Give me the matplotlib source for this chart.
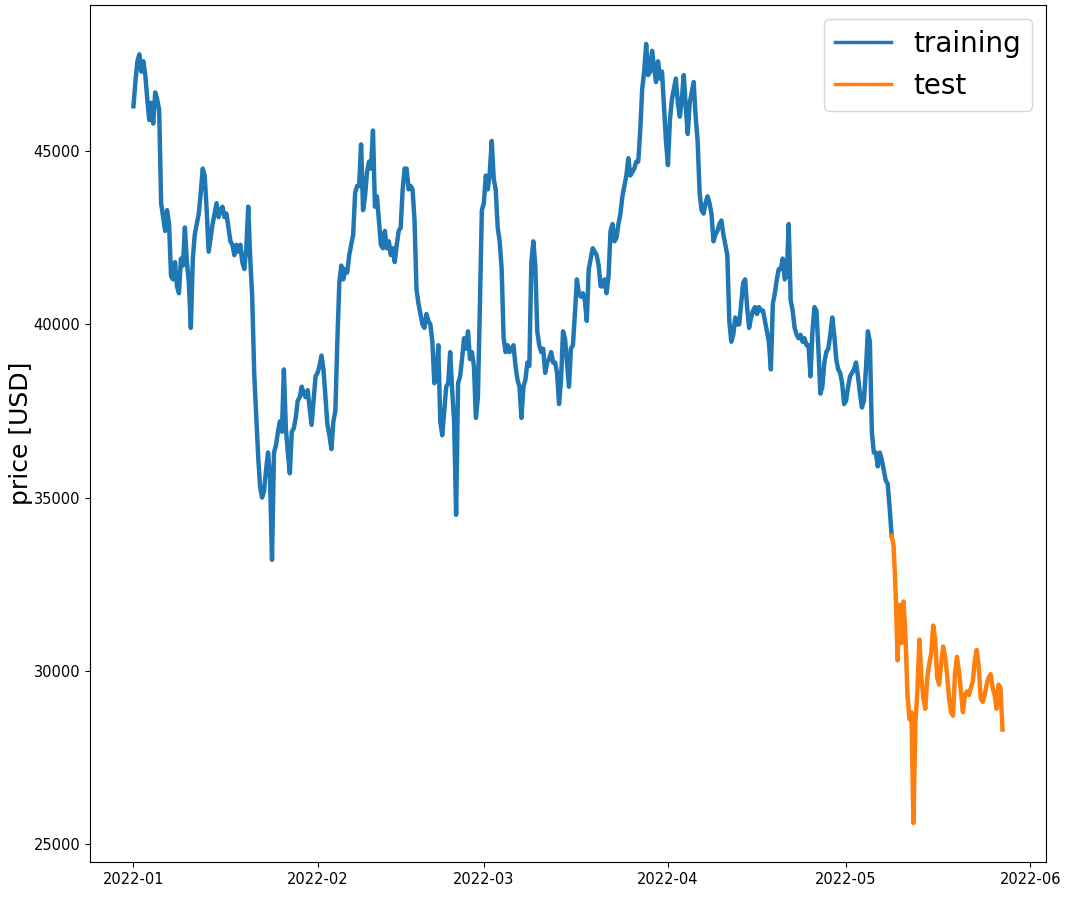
import matplotlib
matplotlib.use("Agg")
import matplotlib.pyplot as plt
import matplotlib.dates as mdates
import pandas as pd

# price readings, 3 per day (00h, 08h, 16h)
jan_prices = [
    46300, 47000, 47600,  47800, 47300, 47600,  47200, 46500, 45900,
    46400, 45800, 46700,  46500, 46200, 43500,  43100, 42700, 43300,
    42900, 41400, 41300,  41800, 41100, 40900,  41900, 41700, 42800,
    41800, 41200, 39900,  41900, 42600, 42900,  43200, 43800, 44500,
    44300, 43300, 42100,  42500, 42900, 43200,  43500, 43100, 43300,
    43400, 43100, 43200,  42800, 42400, 42300,  42000, 42300, 42100,
    42300, 41800, 41600,  42200, 43400, 41900,  40800, 38600, 37400,
    36200, 35300, 35000,  35200, 35800, 36300,  35600, 33200, 36300,
    36500, 36900, 37200,  36900, 38700, 37000,  36300, 35700, 36900,
    37000, 37300, 37800,  37900, 38200, 38000,  37900, 38100, 37600,
    37100, 37800, 38500,
]
feb_prices = [
    38600, 38800, 39100,  38700, 37900, 37100,  36800, 36400, 37200,
    37500, 39500, 41200,  41700, 41300, 41600,  41500, 42000, 42300,
    42600, 43800, 44000,  44000, 45200, 43300,  43700, 44400, 44700,
    44500, 45600, 43400,  43700, 43000, 42300,  42200, 42700, 42200,
    42400, 42000, 42200,  41800, 42300, 42700,  42800, 43900, 44500,
    44500, 43900, 44000,  43900, 43000, 41000,  40600, 40300, 40000,
    39900, 40300, 40100,  40000, 39500, 38300,  38400, 39400, 37200,
    36800, 37500, 38200,  38300, 39200, 38100,  37200, 34500, 38300,
    38500, 39000, 39600,  39300, 39800, 39000,  39200, 38800, 37300,
    37900, 40500, 43300,
]
mar_prices = [
    43500, 44300, 43900,  44400, 45300, 44200,  43900, 42800, 42400,
    41600, 39600, 39200,  39400, 39200, 39300,  39400, 38800, 38400,
    38200, 37300, 38200,  38400, 38900, 38800,  41800, 42400, 41700,
    39800, 39400, 39200,  39300, 38600, 38900,  39000, 39200, 38900,
    38900, 38600, 37700,  38400, 39800, 39600,  38900, 38200, 39300,
    39400, 40300, 41300,  40900, 40800, 40900,  40700, 40100, 41600,
    41900, 42200, 42100,  42000, 41700, 41100,  41100, 41300, 40900,
    41400, 42700, 42900,  42400, 42500, 42900,  43200, 43700, 44000,
    44300, 44800, 44300,  44400, 44500, 44700,  44700, 45600, 46800,
    47300, 48100, 47200,  47300, 47900, 47400,  47000, 47600, 47100,
    47300, 46300, 45300,
]
apr_prices = [
    44600, 45900, 46500,  46800, 47100, 46400,  46000, 46500, 47200,
    46300, 45500, 46400,  46700, 47000, 46000,  45300, 43800, 43300,
    43200, 43500, 43700,  43500, 43200, 42400,  42600, 42700, 42900,
    43000, 42600, 42300,  42000, 40100, 39500,  39700, 40200, 40000,
    40000, 40600, 41200,  41300, 40500, 39900,  40200, 40400, 40500,
    40300, 40500, 40400,  40400, 40100, 39800,  39500, 38700, 40600,
    40900, 41300, 41600,  41600, 41900, 41300,  41400, 42900, 40700,
    40400, 39900, 39700,  39600, 39700, 39500,  39600, 39400, 39400,
    38500, 39800, 40500,  40400, 39300, 38000,  38200, 38900, 39200,
    39300, 39700, 40200,  39700, 39000, 38700,  38600, 38300, 37700,
]
may_train_prices = [
    37800, 38200, 38500,  38600, 38700, 38900,  38500, 38000, 37600,
    37800, 38700, 39800,  39500, 36900, 36300,  36300, 35900, 36300,
    36100, 35800, 35500,  35400, 34700, 33900,
]
# test series starts at the last training reading (May 8, 16h)
test_prices = [
    33900,
    33600, 32300, 30300,  31900, 30800, 32000,  31000, 29300, 28600,
    28800, 25600, 28500,  29400, 30900, 29800,  29200, 28900, 29800,
    30200, 30500, 31300,  30900, 29800, 29600,  30200, 30700, 30400,
    29900, 29200, 28800,  28700, 29900, 30400,  30000, 29400, 28800,
    29300, 29400, 29300,  29500, 29700, 30300,  30600, 30100, 29200,
    29100, 29300, 29600,  29800, 29900, 29500,  29300, 28900, 29600,
    29500, 28300,
]

train_prices = jan_prices + feb_prices + mar_prices + apr_prices + may_train_prices
train_dates = pd.date_range("2022-01-01", periods=len(train_prices), freq="8h")
test_dates = pd.date_range("2022-05-08 16:00", periods=len(test_prices), freq="8h")

fig = plt.figure(figsize=(10.66, 9.07), dpi=100)
ax = fig.add_axes([0.0844, 0.0496, 0.8968, 0.9449])

ax.plot(train_dates, train_prices, color="#1f77b4", lw=3.2, label="training")
ax.plot(test_dates, test_prices, color="#ff7f0e", lw=3.2, label="test")

ax.xaxis.set_major_locator(mdates.MonthLocator())
ax.xaxis.set_major_formatter(mdates.DateFormatter("%Y-%m"))
ax.tick_params(labelsize=10.5)
ax.set_ylabel("price [USD]", fontsize=18)
ax.yaxis.set_label_coords(-0.06, 0.5)

leg = ax.legend(loc="upper right", fontsize=20)
for h in leg.get_lines():
    h.set_linewidth(2.5)

fig.savefig("out.png", dpi=100)
